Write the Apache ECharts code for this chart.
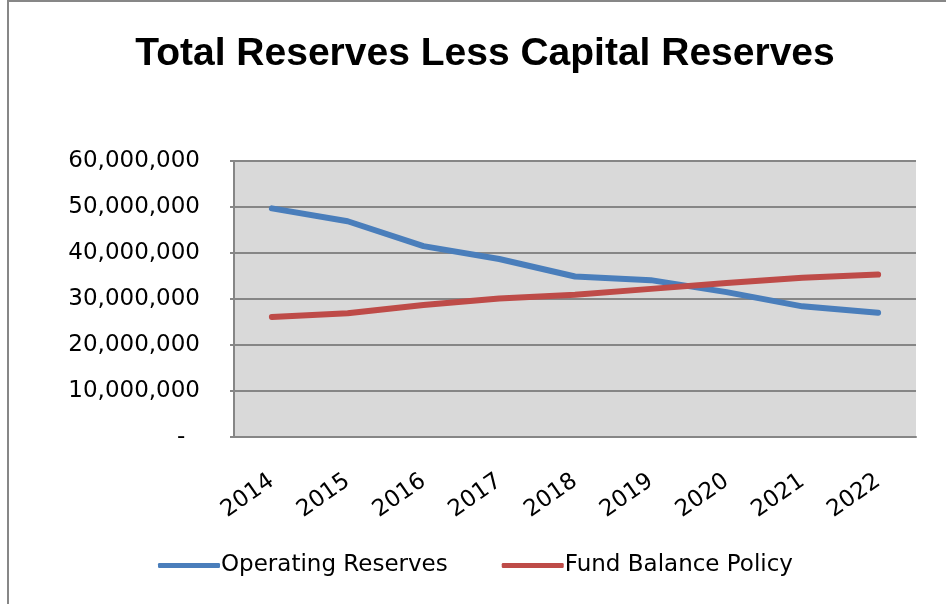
<!DOCTYPE html>
<html>
<head>
<meta charset="utf-8">
<script src="https://cdn.jsdelivr.net/npm/echarts@6/dist/echarts.min.js"></script>
<style>
  html, body { margin: 0; padding: 0; background: #ffffff; }
  #chart { width: 946px; height: 604px; }
</style>
</head>
<body>
<div id="chart"></div>
<script>
// Fiscal years on the category axis
const years = ['2014', '2015', '2016', '2017', '2018', '2019', '2020', '2021', '2022'];

// Operating reserves by year
const operatingReserves = [49700000, 46900000, 41500000, 38700000, 34900000, 34100000, 31500000, 28400000, 27000000];

// Fund balance policy target by year
const fundBalancePolicy = [26100000, 26900000, 28700000, 30100000, 30900000, 32200000, 33500000, 34600000, 35300000];

const seriesNames = ['Operating Reserves', 'Fund Balance Policy'];

const labelFont = 'DejaVu Sans';

const chart = echarts.init(document.getElementById('chart'), null, { renderer: 'canvas' });

// Accounting-style number format: thousands separators, dash for zero
function fmtThousands(v) {
  if (v === 0) return '-  ';
  return String(v).replace(/\B(?=(\d{3})+(?!\d))/g, ',');
}

chart.setOption({
  backgroundColor: '#ffffff',
  animation: false,
  title: {
    text: 'Total Reserves Less Capital Reserves',
    left: 480,
    top: 30,
    textAlign: 'center',
    textStyle: {
      fontFamily: 'Liberation Sans',
      fontWeight: 'bold',
      fontSize: 39,
      color: '#000000'
    }
  },
  graphic: [
    {
      type: 'polyline',
      shape: { points: [[8, 604], [8, 1], [946, 1]] },
      style: { stroke: '#878787', lineWidth: 2, fill: null },
      silent: true
    }
  ],
  legend: {
    data: seriesNames,
    left: 153,
    top: 549,
    itemWidth: 62,
    itemHeight: 5,
    itemGap: 54,
    icon: 'roundRect',
    textStyle: { fontFamily: labelFont, fontSize: 23, color: '#000000', padding: [0, 0, 0, -4] }
  },
  grid: {
    left: 234,
    right: 30,
    top: 161,
    bottom: 167,
    show: true,
    backgroundColor: '#d9d9d9',
    borderWidth: 0,
    containLabel: false
  },
  xAxis: {
    type: 'category',
    data: years,
    boundaryGap: true,
    axisLine: { show: true, lineStyle: { color: '#868686', width: 2 } },
    axisTick: { show: false },
    axisLabel: {
      rotate: 35,
      margin: 42,
      fontFamily: labelFont,
      fontSize: 23,
      color: '#000000'
    }
  },
  yAxis: {
    type: 'value',
    min: 0,
    max: 60000000,
    interval: 10000000,
    axisLine: { show: true, lineStyle: { color: '#868686', width: 2 } },
    axisTick: { show: true, length: 4, lineStyle: { color: '#868686', width: 2 } },
    splitLine: { show: true, lineStyle: { color: '#868686', width: 2 } },
    axisLabel: {
      margin: 34,
      fontFamily: labelFont,
      fontSize: 23,
      color: '#000000',
      formatter: fmtThousands
    }
  },
  series: [
    {
      name: seriesNames[0],
      type: 'line',
      data: operatingReserves,
      symbol: 'none',
      lineStyle: { color: '#4a7ebb', width: 6, cap: 'round', join: 'round' },
      itemStyle: { color: '#4a7ebb' }
    },
    {
      name: seriesNames[1],
      type: 'line',
      data: fundBalancePolicy,
      symbol: 'none',
      lineStyle: { color: '#be4b48', width: 6, cap: 'round', join: 'round' },
      itemStyle: { color: '#be4b48' }
    }
  ]
});
</script>
</body>
</html>
